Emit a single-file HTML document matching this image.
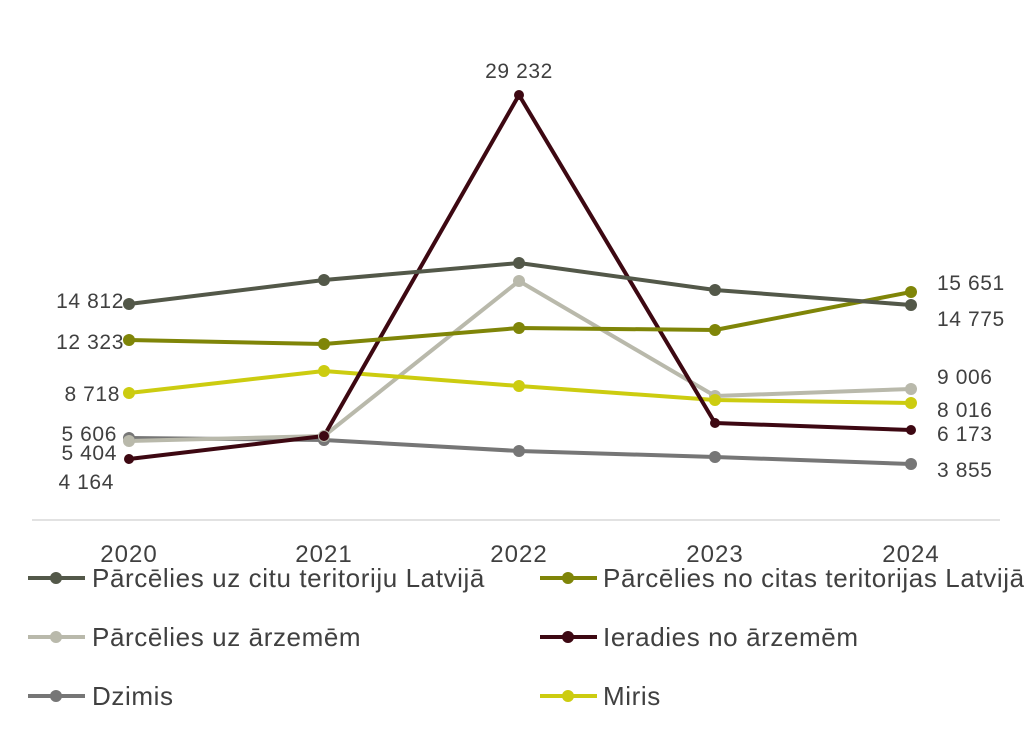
<!DOCTYPE html>
<html><head><meta charset="utf-8"><style>
body{margin:0;background:#fff}
svg text{font-family:"Liberation Sans",sans-serif;font-size:21px;fill:#404040;letter-spacing:0.6px}
svg text.lg{font-size:26px;letter-spacing:0.6px}
svg text.yr{font-size:24px;letter-spacing:1px}
</style></head><body>
<svg width="1024" height="744" xmlns="http://www.w3.org/2000/svg">
<rect width="1024" height="744" fill="#fff"/>
<line x1="32" y1="520" x2="1000" y2="520" stroke="#d9d9d9" stroke-width="1.5"/>
<g stroke-width="4" fill="none" stroke-linejoin="round">
<polyline stroke="#767676" points="129,438 324,440 519,451 715,457 911,464"/>
<polyline stroke="#b9b9ab" points="129,441 324,436 519,281 715,396 911,389"/>
<polyline stroke="#cccc10" points="129,393 324,371 519,386 715,400 911,403"/>
<polyline stroke="#3d0812" points="129,459 324,436 519,95 715,423 911,430"/>
<polyline stroke="#7f8508" points="129,340 324,344 519,328 715,330 911,292"/>
<polyline stroke="#535849" points="129,304 324,280 519,263 715,290 911,305"/>
</g>
<g fill="#767676"><circle cx="129" cy="438" r="6"/><circle cx="324" cy="440" r="6"/><circle cx="519" cy="451" r="6"/><circle cx="715" cy="457" r="6"/><circle cx="911" cy="464" r="6"/></g>
<g fill="#b9b9ab"><circle cx="129" cy="441" r="6"/><circle cx="324" cy="436" r="6"/><circle cx="519" cy="281" r="6"/><circle cx="715" cy="396" r="6"/><circle cx="911" cy="389" r="6"/></g>
<g fill="#cccc10"><circle cx="129" cy="393" r="6"/><circle cx="324" cy="371" r="6"/><circle cx="519" cy="386" r="6"/><circle cx="715" cy="400" r="6"/><circle cx="911" cy="403" r="6"/></g>
<g fill="#3d0812"><circle cx="129" cy="459" r="5"/><circle cx="324" cy="436" r="5"/><circle cx="519" cy="95" r="5"/><circle cx="715" cy="423" r="5"/><circle cx="911" cy="430" r="5"/></g>
<g fill="#7f8508"><circle cx="129" cy="340" r="6"/><circle cx="324" cy="344" r="6"/><circle cx="519" cy="328" r="6"/><circle cx="715" cy="330" r="6"/><circle cx="911" cy="292" r="6"/></g>
<g fill="#535849"><circle cx="129" cy="304" r="6"/><circle cx="324" cy="280" r="6"/><circle cx="519" cy="263" r="6"/><circle cx="715" cy="290" r="6"/><circle cx="911" cy="305" r="6"/></g>
<g text-anchor="end">
<text x="124" y="308">14 812</text>
<text x="124" y="349">12 323</text>
<text x="120" y="401">8 718</text>
<text x="117" y="441">5 606</text>
<text x="117" y="460">5 404</text>
<text x="114" y="489">4 164</text>
</g>
<text x="937" y="290">15 651</text>
<text x="937" y="326">14 775</text>
<text x="937" y="384">9 006</text>
<text x="937" y="417">8 016</text>
<text x="937" y="441">6 173</text>
<text x="937" y="477">3 855</text>
<text x="519" y="78" text-anchor="middle">29 232</text>
<g text-anchor="middle">
<text class="yr" x="129" y="562">2020</text><text class="yr" x="324" y="562">2021</text><text class="yr" x="519" y="562">2022</text><text class="yr" x="715" y="562">2023</text><text class="yr" x="911" y="562">2024</text>
</g>
<g stroke-width="4">
<line x1="28" y1="578" x2="85" y2="578" stroke="#535849"/><circle cx="56" cy="578" r="6" fill="#535849"/>
<line x1="540" y1="578" x2="597" y2="578" stroke="#7f8508"/><circle cx="568" cy="578" r="6" fill="#7f8508"/>
<line x1="28" y1="637" x2="85" y2="637" stroke="#b9b9ab"/><circle cx="56" cy="637" r="6" fill="#b9b9ab"/>
<line x1="540" y1="637" x2="597" y2="637" stroke="#3d0812"/><circle cx="568" cy="637" r="6" fill="#3d0812"/>
<line x1="28" y1="696" x2="85" y2="696" stroke="#767676"/><circle cx="56" cy="696" r="6" fill="#767676"/>
<line x1="540" y1="696" x2="597" y2="696" stroke="#cccc10"/><circle cx="568" cy="696" r="6" fill="#cccc10"/>
</g>
<text class="lg" x="92" y="587">Pārcēlies uz citu teritoriju Latvijā</text>
<text class="lg" x="603" y="587">Pārcēlies no citas teritorijas Latvijā</text>
<text class="lg" x="92" y="646">Pārcēlies uz ārzemēm</text>
<text class="lg" x="603" y="646">Ieradies no ārzemēm</text>
<text class="lg" x="92" y="705">Dzimis</text>
<text class="lg" x="603" y="705">Miris</text>
</svg>
</body></html>
